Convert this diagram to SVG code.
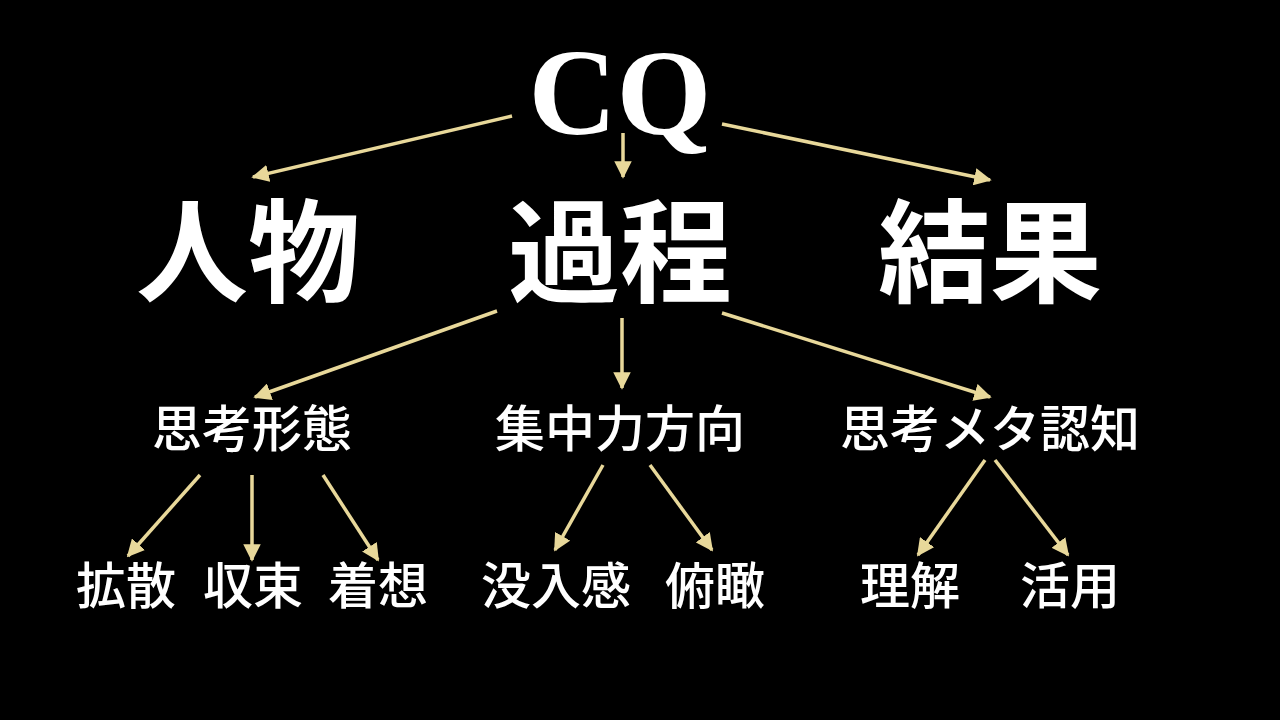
<svg xmlns="http://www.w3.org/2000/svg" width="1280" height="720" viewBox="0 0 1280 720">
<style>
.t{fill:#fff;font-family:"Noto Sans CJK JP","Noto Sans",sans-serif;text-anchor:middle}
.l1{font-size:112px;font-weight:700}
.l2{font-size:50px;font-weight:500}
.l3{font-size:50px;font-weight:500}
.c line{stroke:#e8d89a;stroke-width:3.5;marker-end:url(#a)}
</style>
<defs><marker id="a" viewBox="0 0 10 10" refX="9" refY="5" markerWidth="5" markerHeight="5" orient="auto" markerUnits="strokeWidth"><path d="M0 0L10 5L0 10z" fill="#e8d89a"/></marker></defs>
<rect width="1280" height="720" fill="#000"/>
<g id="cq"><text class="t" x="620" y="134" style="font-family:'Liberation Serif',serif;font-size:122px;font-weight:700">CQ</text></g>
<g id="jinbutsu"><text class="t l1" x="248" y="294">人物</text></g>
<g id="katei"><text class="t l1" x="620" y="294">過程</text></g>
<g id="kekka"><text class="t l1" x="990" y="294">結果</text></g>
<g id="shikou"><text class="t l2" x="252" y="447">思考形態</text></g>
<g id="shuchu"><text class="t l2" x="620" y="447">集中力方向</text></g>
<g id="meta"><text class="t l2" x="990" y="447">思考メタ認知</text></g>
<g id="kakusan"><text class="t l3" x="126" y="604">拡散</text></g>
<g id="shusoku"><text class="t l3" x="253" y="604">収束</text></g>
<g id="chakuso"><text class="t l3" x="378" y="604">着想</text></g>
<g id="botsunyu"><text class="t l3" x="556" y="604">没入感</text></g>
<g id="fukan"><text class="t l3" x="715" y="604">俯瞰</text></g>
<g id="rikai"><text class="t l3" x="910" y="604">理解</text></g>
<g id="katsuyo"><text class="t l3" x="1070" y="604">活用</text></g>
<g class="c">
<line x1="512" y1="116" x2="253" y2="177"/>
<line x1="623" y1="133" x2="623" y2="177"/>
<line x1="722" y1="124" x2="990" y2="180"/>
<line x1="497" y1="311" x2="255" y2="397"/>
<line x1="622" y1="318" x2="622" y2="388"/>
<line x1="722" y1="313" x2="990" y2="397"/>
<line x1="200" y1="475" x2="128" y2="556"/>
<line x1="252" y1="475" x2="252" y2="560"/>
<line x1="323" y1="475" x2="378" y2="560"/>
<line x1="603" y1="465" x2="555" y2="550"/>
<line x1="650" y1="465" x2="712" y2="550"/>
<line x1="985" y1="460" x2="918" y2="555"/>
<line x1="995" y1="460" x2="1068" y2="555"/>
</g>
</svg>
